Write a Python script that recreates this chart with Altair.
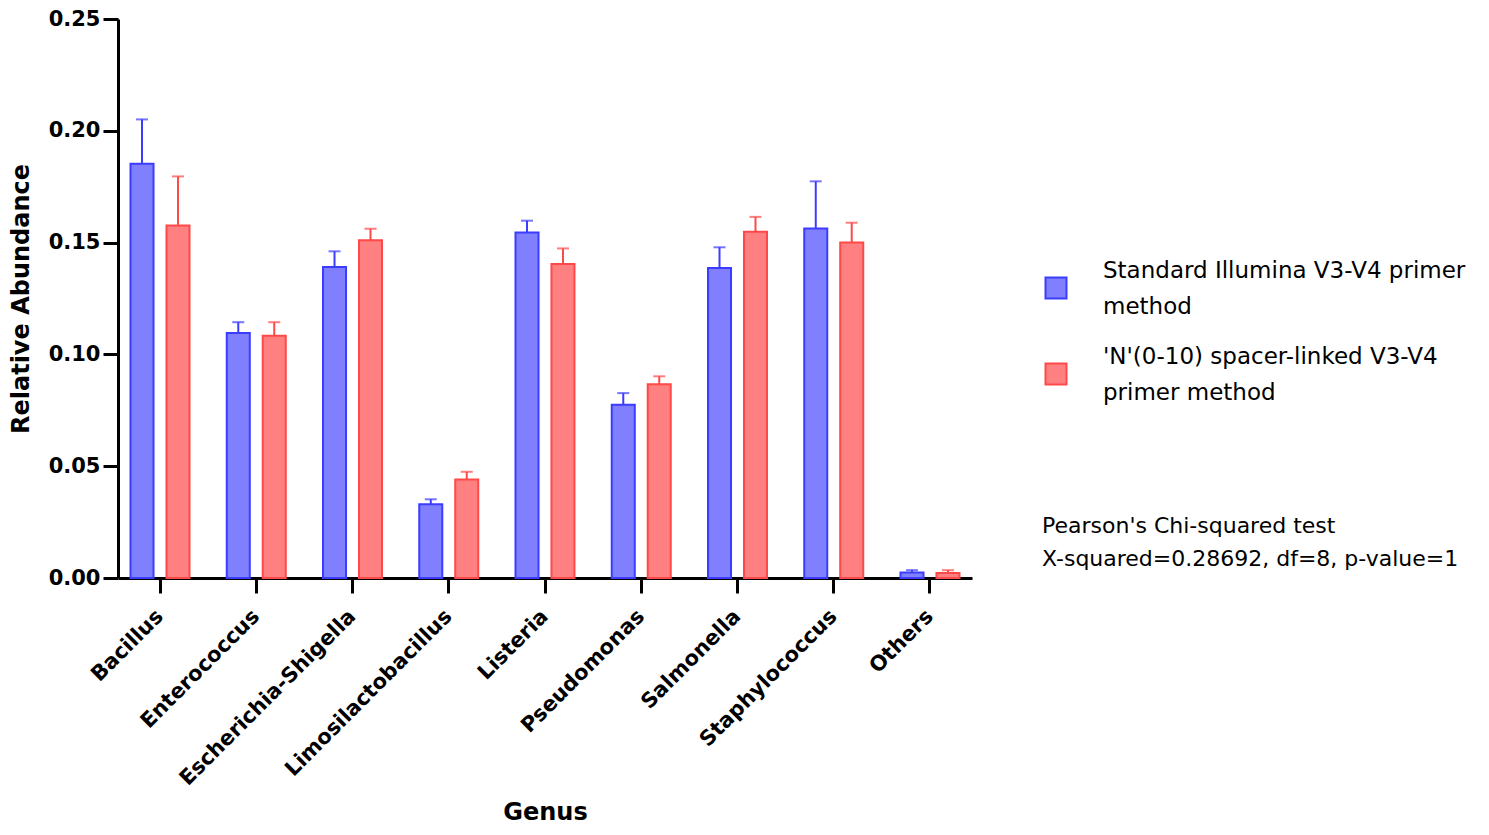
import altair as alt
import pandas as pd

genera = ["Bacillus", "Enterococcus", "Escherichia-Shigella", "Limosilactobacillus",
          "Listeria", "Pseudomonas", "Salmonella", "Staphylococcus", "Others"]
methods = ["Standard Illumina V3-V4 primer|method",
           "'N'(0-10) spacer-linked V3-V4|primer method"]
std_mean = [0.1853, 0.1096, 0.1391, 0.0330, 0.1545, 0.0775, 0.1386, 0.1563, 0.0025]
std_upper = [0.2051, 0.1144, 0.1461, 0.0352, 0.1598, 0.0827, 0.1479, 0.1774, 0.0035]
spc_mean = [0.1576, 0.1083, 0.1510, 0.0440, 0.1404, 0.0867, 0.1549, 0.1501, 0.0022]
spc_upper = [0.1796, 0.1144, 0.1562, 0.0475, 0.1474, 0.0902, 0.1615, 0.1589, 0.0035]
y_ticks = [0, 0.05, 0.10, 0.15, 0.20, 0.25]
stats_text = "Pearson's Chi-squared test|X-squared=0.28692, df=8, p-value=1"

rows = []
for i, g in enumerate(genera):
    rows.append({"genus": g, "method": methods[0], "mean": std_mean[i], "upper": std_upper[i]})
    rows.append({"genus": g, "method": methods[1], "mean": spc_mean[i], "upper": spc_upper[i]})
df = pd.DataFrame(rows)
legend_df = pd.DataFrame({"label": methods})

FONT = "DejaVu Sans"
fill_range = ["#8080FF", "#FF8080"]
stroke_range = ["#3c3cFF", "#FF4848"]

TOP = 19  # plot top in page pixels
BOTTOM = 578

x_enc = alt.X("genus:N", sort=genera, title="Genus",
              scale=alt.Scale(paddingInner=0.387, paddingOuter=0.13),
              axis=alt.Axis(labelAngle=-45, labelAlign="right", labelBaseline="middle",
                            labelFontSize=21, labelFontWeight="bold", labelPadding=20,
                            labelFont=FONT, labelLimit=0,
                            titleFontSize=24, titleFontWeight="bold", titlePadding=22,
                            titleFont=FONT,
                            tickSize=15, tickWidth=3, domainWidth=3,
                            domainColor="black", tickColor="black", labelColor="black"))
xo = alt.XOffset("method:N", sort=methods, scale=alt.Scale(paddingInner=0.36, paddingOuter=0))

base = alt.Chart(df)

fill_scale = alt.Scale(domain=methods, range=fill_range)
stroke_scale = alt.Scale(domain=methods, range=stroke_range)

bars = base.mark_bar(strokeWidth=2).encode(
    x=x_enc, xOffset=xo,
    y=alt.Y("mean:Q", title="Relative Abundance",
            scale=alt.Scale(domain=[0, 0.25], nice=False),
            axis=alt.Axis(values=y_ticks, format=".2f",
                          labelFontSize=21, labelFontWeight="bold", labelPadding=3,
                          labelFont=FONT,
                          titleFontSize=24, titleFontWeight="bold", titlePadding=15,
                          titleFont=FONT,
                          tickSize=15, tickWidth=3, domainWidth=3, grid=False,
                          domainColor="black", tickColor="black", labelColor="black")),
    fill=alt.Fill("method:N", sort=methods, scale=fill_scale, legend=None),
    stroke=alt.Stroke("method:N", sort=methods, scale=stroke_scale, legend=None),
)

rules = base.mark_rule(strokeWidth=2).encode(
    x=alt.X("genus:N", sort=genera), xOffset=xo,
    y="mean:Q", y2="upper:Q",
    stroke=alt.Stroke("method:N", sort=methods, scale=stroke_scale, legend=None),
)

caps = base.mark_tick(size=12, thickness=2).encode(
    x=alt.X("genus:N", sort=genera), xOffset=xo,
    y="upper:Q",
    color=alt.Color("method:N", sort=methods, scale=stroke_scale, legend=None),
)

main = alt.layer(bars, rules, caps)

leg_y = alt.Y("label:N", sort=methods, axis=None,
              scale=alt.Scale(domain=methods, range=[288 - TOP, 374 - TOP], padding=0))

leg_sq = alt.Chart(legend_df).mark_square(size=441, strokeWidth=2, opacity=1).encode(
    x=alt.value(938), y=leg_y,
    fill=alt.Fill("label:N", sort=methods, scale=fill_scale, legend=None),
    stroke=alt.Stroke("label:N", sort=methods, scale=stroke_scale, legend=None),
)

leg_txt = alt.Chart(legend_df).mark_text(
    align="left", baseline="middle", fontSize=23, font=FONT, lineBreak="|",
    lineHeight=36, color="black", dy=-17
).encode(x=alt.value(985), y=leg_y, text="label:N")

stats = alt.Chart(pd.DataFrame({"t": [stats_text]})).mark_text(
    align="left", baseline="middle", fontSize=22, font=FONT, lineBreak="|",
    lineHeight=33, color="black"
).encode(x=alt.value(924), y=alt.value(526 - TOP), text="t:N")

chart = alt.layer(main, leg_sq, leg_txt, stats).resolve_scale(
    y="independent", fill="independent", stroke="independent", color="independent"
).properties(
    width=854, height=BOTTOM - TOP,
    autosize=alt.AutoSizeParams(type="none"),
    padding={"left": 110, "top": TOP - 8, "right": 501, "bottom": 819 - BOTTOM + 8},
).configure(font=FONT).configure_view(stroke=None)

chart.save("out.html", embed_options={"renderer": "svg", "actions": False})
